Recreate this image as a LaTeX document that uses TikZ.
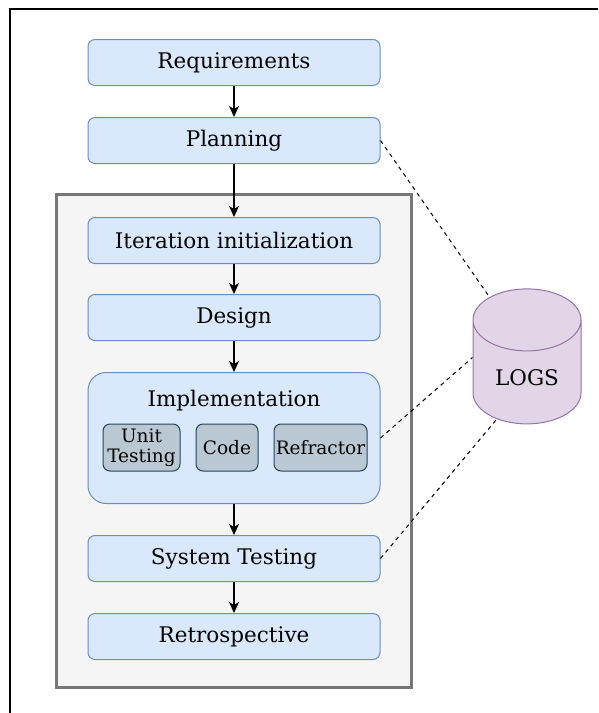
\documentclass[tikz,border=0pt]{standalone}
\usepackage{fontspec}
\setmainfont{DejaVu Serif}
\usetikzlibrary{positioning,shapes.geometric,arrows.meta}
\definecolor{phasefill}{HTML}{DAE8FC}
\definecolor{phaseline}{HTML}{6C8EBF}
\definecolor{practicefill}{HTML}{BAC8D3}
\definecolor{practiceline}{HTML}{23445D}
\definecolor{loopfill}{HTML}{F5F5F5}
\definecolor{loopline}{HTML}{777777}
\definecolor{logsfill}{HTML}{E1D5E7}
\definecolor{logsline}{HTML}{9673A6}
\tikzset{flow/.style={line width=1.3pt,-{Stealth[length=11pt,width=10pt,inset=3pt]}},
 logline/.style={line width=1pt,dash pattern=on 4pt off 4pt}}

\begin{document}
\begin{tikzpicture}[x=1pt,y=-1pt,
 phase/.style={draw=phaseline,fill=phasefill,line width=1pt,rounded corners=7pt,
  minimum width=292pt,minimum height=46pt,inner sep=0pt,font=\fontsize{21.5}{24}\selectfont},
 practice/.style={draw=practiceline,fill=practicefill,line width=1pt,rounded corners=7pt,
  minimum height=47pt,inner sep=0pt,align=center,font=\fontsize{18.5}{20}\selectfont}]
\useasboundingbox (0,0) rectangle (598,713);
\draw[line width=1.3pt] (10,713) -- (10,9) -- (598,9);

\node[draw=loopline,fill=loopfill,line width=3pt,minimum width=355pt,minimum height=493pt] (LOOP) at (233.5,440.5) {};

\node[phase] (REQ) at (234,62.5) {Requirements};
\node[phase,below=31pt of REQ] (PLAN) {Planning};
\node[phase,below=53pt of PLAN] (INIT) {Iteration initialization};
\node[phase,below=30pt of INIT] (DES) {Design};
\node[phase,below=31pt of DES,minimum height=131pt,rounded corners=18pt] (IMPL) {};
\node[below=18pt of IMPL.north,font=\fontsize{21.5}{24}\selectfont,inner sep=0pt] (IMPLT) {Implementation};
\node[practice,minimum width=77pt] (UT) at (141.5,447.5) {Unit\\Testing};
\node[practice,minimum width=62pt,right=15pt of UT] (CODE) {Code};
\node[practice,minimum width=93pt,right=15pt of CODE] (REF) {Refractor};
\node[phase,below=31pt of IMPL] (SYS) {System Testing};
\node[phase,below=31pt of SYS] (RETRO) {Retrospective};

\node[cylinder,shape border rotate=90,aspect=0.88,draw=logsline,fill=logsfill,line width=1pt,
 minimum width=108pt,minimum height=135pt,font=\fontsize{21.5}{24}\selectfont] (LOGS) at (527,377.5) {LOGS};

\draw (REQ) edge[flow] (PLAN)
(PLAN) edge[flow] (INIT)
(INIT) edge[flow] (DES)
(DES) edge[flow] (IMPL)
(IMPL) edge[flow] (SYS)
(SYS) edge[flow] (RETRO);

\draw (PLAN.east) edge[logline] (LOGS.115)
(IMPL.east) edge[logline] ([yshift=20pt]LOGS.west)
(SYS.east) edge[logline] (LOGS.234);
\end{tikzpicture}
\end{document}
